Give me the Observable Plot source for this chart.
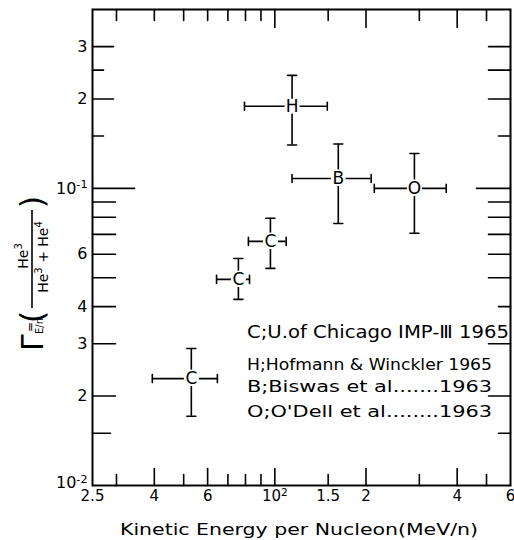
<!DOCTYPE html>
<html><head><meta charset="utf-8">
<script src="https://cdn.jsdelivr.net/npm/d3@7"></script>
<script src="https://cdn.jsdelivr.net/npm/@observablehq/plot@0.6"></script>
<style>html,body{margin:0;padding:0;background:#fff;} svg{display:block}</style>
</head><body><div id="chart"></div>
<script>
// ---- data ----
const labels     = ["H", "B", "O", "C", "C", "C"];
const energy     = [114, 162, 289, 96.7, 75.8, 53.0];      // MeV/n
const energyLow  = [79.4, 114, 213, 81.8, 64.2, 39.4];
const energyHigh = [149, 208, 368, 109, 82.5, 64.6];
const ratio      = [0.189, 0.108, 0.100, 0.0663, 0.0494, 0.0229];
const ratioLow   = [0.140, 0.0762, 0.0706, 0.0538, 0.0423, 0.0171];
const ratioHigh  = [0.240, 0.141, 0.131, 0.0793, 0.0581, 0.0289];

const xTickValues  = [30, 40, 50, 60, 70, 80, 90, 100, 150, 200, 300, 400, 500];
const xLabelValues = [25, 40, 60, 100, 150, 200, 400, 600];
const xLabelText   = ["2.5", "4", "6", "10^2", "1.5", "2", "4", "6"];
const yTickValues  = [0.015, 0.02, 0.03, 0.04, 0.05, 0.06, 0.07, 0.08, 0.09, 0.1, 0.15, 0.2, 0.25, 0.3];
const yLabelValues = [0.02, 0.03, 0.04, 0.06, 0.1, 0.2, 0.3];
const yLabelText   = ["2", "3", "4", "6", "10^-1", "2", "3"];
const yBottomValue = [0.01];
const yBottomText  = ["10^-2"];

const legendLines = [
  "C;U.of Chicago IMP-Ⅲ 1965",
  "H;Hofmann & Winckler 1965",
  "B;Biswas et al.......1963",
  "O;O'Dell et al........1963"
];
const xTitle = "Kinetic Energy per Nucleon(MeV/n)";

const points = labels.map((label, i) => ({
  label, energy: energy[i], energyLow: energyLow[i], energyHigh: energyHigh[i],
  ratio: ratio[i], ratioLow: ratioLow[i], ratioHigh: ratioHigh[i]
}));

// ---- tick shapes ----
const shapes = {
  bottom: {draw(c, l) { c.moveTo(0, 0); c.lineTo(0, -l); }},
  top:    {draw(c, l) { c.moveTo(0, 0); c.lineTo(0, l); }},
  left:   {draw(c, l) { c.moveTo(0, 0); c.lineTo(l, 0); }},
  right:  {draw(c, l) { c.moveTo(0, 0); c.lineTo(-l, 0); }}
};
const vCap = {draw(c, l) { c.moveTo(0, -l / 2); c.lineTo(0, l / 2); }};
const hCap = {draw(c, l) { c.moveTo(-l / 2, 0); c.lineTo(l / 2, 0); }};

function tickMarks(values, side, lenOf) {
  const horiz = side === "top" || side === "bottom";
  return d3.groups(values, lenOf).map(([len, vals]) => Plot.vector(vals, {
    [horiz ? "x" : "y"]: d => d,
    frameAnchor: side, anchor: "start", length: len, shape: shapes[side],
    stroke: "black", strokeWidth: 1.6
  }));
}
const bottomLen = v => [40, 60, 100, 200, 400].includes(v) ? 17 : 11;
const topLen = v => [100, 200, 400].includes(v) ? 18 : 11;
const leftLen = v => v === 0.1 ? 42 : (v === 0.25 || v === 0.15) ? 11 : v === 0.015 ? 18 : (v === 0.3 || v === 0.2) ? 21 : 23;
const rightLen = v => v === 0.1 ? 34 : (v === 0.15 || v === 0.04 || v === 0.015) ? 12 : 22;

const FONT = "DejaVu Sans";
const SW = 1.6;

const svg = Plot.plot({
  width: 514, height: 540,
  marginLeft: 92, marginRight: 4, marginTop: 9, marginBottom: 55,
  x: {type: "log", domain: [25, 600], axis: null},
  y: {type: "log", domain: [0.01, 0.4], axis: null},
  style: {fontFamily: FONT, fontSize: "15px", background: "white", color: "black"},
  marks: [
    Plot.frame({stroke: "black", strokeWidth: 2}),
    ...tickMarks(xTickValues, "bottom", bottomLen),
    ...tickMarks(xTickValues, "top", topLen),
    ...tickMarks(yTickValues, "left", leftLen),
    ...tickMarks(yTickValues, "right", rightLen),
    Plot.text(xLabelValues, {x: d => d, text: (d, i) => xLabelText[i], frameAnchor: "bottom",
      lineAnchor: "top", dy: 5, fontSize: 15, fill: "black"}),
    Plot.text(yLabelValues, {y: d => d, text: (d, i) => yLabelText[i], frameAnchor: "left",
      textAnchor: "end", dx: -5, fontSize: 16, fill: "black"}),
    Plot.text(yBottomValue, {y: d => d, text: (d, i) => yBottomText[i], frameAnchor: "left",
      textAnchor: "end", dx: -5, dy: -3, fontSize: 16, fill: "black"}),
    Plot.ruleY(points, {y: "ratio", x1: "energyLow", x2: "energyHigh", stroke: "black", strokeWidth: SW}),
    Plot.ruleX(points, {x: "energy", y1: "ratioLow", y2: "ratioHigh", stroke: "black", strokeWidth: SW}),
    Plot.vector(points, {x: "energyLow", y: "ratio", length: 8, anchor: "start", shape: vCap, stroke: "black", strokeWidth: SW}),
    Plot.vector(points, {x: "energyHigh", y: "ratio", length: 8, anchor: "start", shape: vCap, stroke: "black", strokeWidth: SW}),
    Plot.vector(points, {x: "energy", y: "ratioLow", length: 9, anchor: "start", shape: hCap, stroke: "black", strokeWidth: SW}),
    Plot.vector(points, {x: "energy", y: "ratioHigh", length: 9, anchor: "start", shape: hCap, stroke: "black", strokeWidth: SW}),
    Plot.dot(points, {x: "energy", y: "ratio", r: 7.5, fill: "white", stroke: null}),
    Plot.text(points, {x: "energy", y: "ratio", text: "label", fontSize: 17, fill: "black",
      stroke: "white", strokeWidth: 3, paintOrder: "stroke"})
  ]
});

const s = d3.select(svg);

// turn "10^n" tick labels into 10 with a raised exponent
s.selectAll("text").each(function () {
  const t = this.textContent;
  const m = /^(\d+)\^(-?\d+)$/.exec(t);
  if (!m) return;
  const el = d3.select(this);
  el.text(null);
  el.append("tspan").text(m[1]);
  el.append("tspan").attr("dy", "-0.45em").attr("font-size", "0.7em").text(m[2]);
});

// ---- annotations: legend, axis titles ----
const legendSpec = [
  {y: 338, size: 17, len: 262},
  {y: 370, size: 16, len: 245},
  {y: 392, size: 16, len: 245},
  {y: 417, size: 16, len: 245}
];
legendLines.forEach((t, i) => {
  s.append("text").attr("x", 247).attr("y", legendSpec[i].y)
    .attr("text-anchor", "start")
    .attr("font-family", FONT).attr("font-size", legendSpec[i].size)
    .attr("textLength", legendSpec[i].len).attr("lengthAdjust", "spacingAndGlyphs")
    .attr("fill", "black").text(t);
});
s.append("text").attr("x", 120).attr("y", 535)
  .attr("text-anchor", "start")
  .attr("font-family", FONT).attr("font-size", 16)
  .attr("textLength", 358).attr("lengthAdjust", "spacingAndGlyphs")
  .attr("fill", "black").text(xTitle);

// y-axis label:  Γ_{E/n} = ( He³ / (He³ + He⁴) )
const g = s.append("g").attr("transform", "rotate(-90)").attr("font-family", FONT)
  .attr("fill", "black").attr("text-anchor", "start");
g.append("text").attr("x", -351).attr("y", 43).attr("font-size", 30).text("Γ");
g.append("text").attr("x", -334).attr("y", 43).attr("font-size", 10).text("E/n");
g.append("text").attr("x", -327).attr("y", 34).attr("font-size", 12).attr("text-anchor", "middle").text("=");
g.append("text").attr("x", -317).attr("y", 43).attr("font-size", 32).attr("text-anchor", "middle").text("(");
g.append("line").attr("x1", -308).attr("x2", -210).attr("y1", 32).attr("y2", 32)
  .attr("stroke", "black").attr("stroke-width", 1.6);
const num = g.append("text").attr("x", -256).attr("y", 28).attr("font-size", 14).attr("text-anchor", "middle");
num.append("tspan").text("He");
num.append("tspan").attr("dy", -6).attr("font-size", 10).text("3");
const den = g.append("text").attr("x", -257).attr("y", 48).attr("font-size", 14).attr("text-anchor", "middle");
den.append("tspan").text("He");
den.append("tspan").attr("dy", -6).attr("font-size", 10).text("3");
den.append("tspan").attr("dy", 6).text(" + He");
den.append("tspan").attr("dy", -6).attr("font-size", 10).text("4");
g.append("text").attr("x", -202).attr("y", 43).attr("font-size", 32).attr("text-anchor", "middle").text(")");

document.getElementById("chart").appendChild(svg);
</script>
</body></html>
